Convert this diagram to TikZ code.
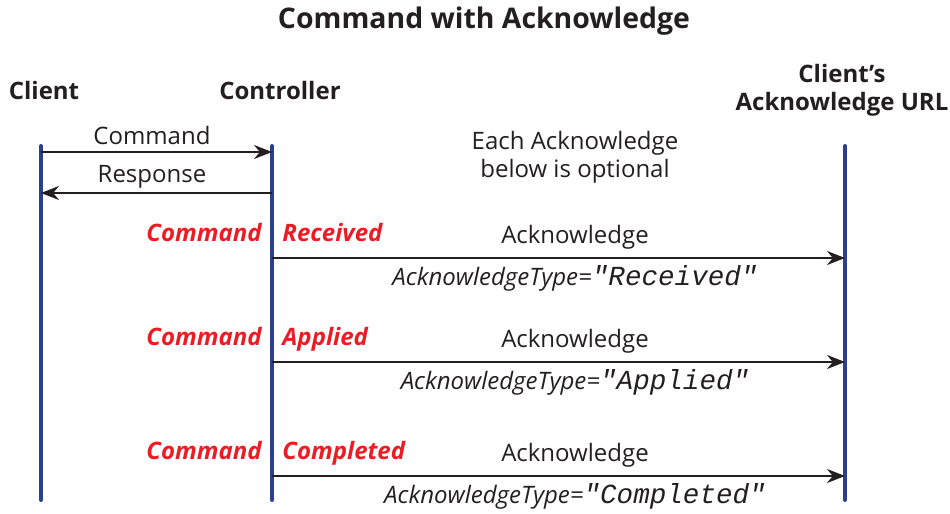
\documentclass[tikz,border=0pt]{standalone}
\usepackage{fontspec}
\setmainfont{Open Sans}
\setmonofont{Liberation Mono}
\usetikzlibrary{arrows.meta}
\definecolor{lifeblue}{HTML}{2B3F8F}
\definecolor{ackred}{HTML}{ED1C24}
\definecolor{msgink}{HTML}{231F20}

\begin{document}
\begin{tikzpicture}[x=0.5pt, y=-0.5pt,
  lifeline/.style={draw=lifeblue, line width=2pt, line cap=round},
  msg/.style={draw=msgink, line width=1pt, -{Stealth[length=9pt, width=7pt]}},
  head/.style={font=\fontsize{12}{14}\selectfont\bfseries, text=msgink, align=center},
  lbl/.style={font=\fontsize{12}{14}\selectfont, text=msgink, inner sep=0pt},
  stage/.style={font=\fontsize{12}{14}\selectfont\bfseries\itshape, text=ackred, inner sep=0pt},
  acktype/.style={font=\fontsize{12}{14}\selectfont\itshape, text=msgink, inner sep=0pt}]
  \useasboundingbox (0,0) rectangle (950,514);
  \node[font=\fontsize{14.2}{16}\selectfont\bfseries, text=msgink] (title) at (484,21) {Command with Acknowledge};
  \node[head] (client) at (44,90) {Client};
  \node[head] (ctrl) at (280,90) {Controller};
  \node[head, align=center] (url) at (842,90) {Client’s\\Acknowledge URL};
  \coordinate (cltop) at (41,146);
  \coordinate (clbot) at (41,500);
  \coordinate (cttop) at (272,146);
  \coordinate (ctbot) at (272,500);
  \coordinate (urtop) at (845,146);
  \coordinate (urbot) at (845,500);
  \draw[lifeline] (cltop) -- (clbot);
  \draw[lifeline] (cttop) -- (ctbot);
  \draw[lifeline] (urtop) -- (urbot);
  \coordinate (cmdA) at (41,152);
  \coordinate (cmdB) at (272,152);
  \coordinate (rspA) at (272,193);
  \coordinate (rspB) at (41,193);
  \draw[msg] (cmdA) -- (cmdB);
  \draw[msg] (rspA) -- (rspB);
  \node[lbl] (cmdlbl) at (152,135) {Command};
  \node[lbl] (rsplbl) at (152,177) {Response};
  \node[lbl, align=center] (note) at (575,157) {Each Acknowledge\\below is optional};
  \foreach \n/\y/\st in {rcv/258/Received, app/362/Applied, cmp/476/Completed}{
    \coordinate (\n A) at (272,\y);
    \coordinate (\n B) at (845,\y);
    \draw[msg] (\n A) -- (\n B);
    \node[stage, anchor=base east] (\n cmd) at (262,\y-17) {Command};
    \node[stage, anchor=base west] (\n st) at (282,\y-17) {\st};
    \node[lbl] (\n ack) at (575,\y-21) {Acknowledge};
    \node[acktype] (\n type) at (575,\y+20) {AcknowledgeType=\texttt{\fontsize{13.8}{14}\selectfont"\st"}};
  }
\end{tikzpicture}
\end{document}
